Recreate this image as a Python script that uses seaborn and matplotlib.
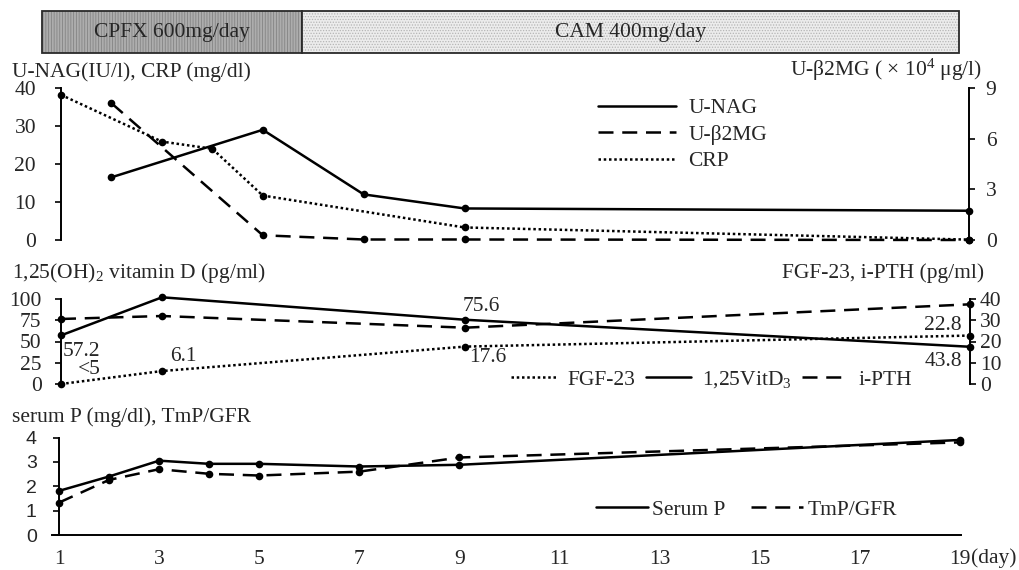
import numpy as np
import pandas as pd
import seaborn as sns
import matplotlib.pyplot as plt
from matplotlib.lines import Line2D

sns.set_style('white')
plt.rcParams['font.family'] = ['Liberation Serif', 'DejaVu Serif']
plt.rcParams['mathtext.fontset'] = 'custom'
plt.rcParams['mathtext.rm'] = 'Liberation Serif'
plt.rcParams['mathtext.it'] = 'Liberation Serif:italic'
plt.rcParams['font.size'] = 15.5
plt.rcParams['hatch.linewidth'] = 0.6

# treatment periods (day units)
phases = ['CPFX 600mg/day', 'CAM 400mg/day']
phase_start = [0.62, 5.78]
phase_end = [5.78, 18.8]

# top panel
nag_days = [2, 5, 7, 9, 19]
nag = [16.5, 29.0, 12.0, 8.3, 7.7]
b2mg_days = [2, 5, 7, 9, 19]
b2mg = [8.1, 0.28, 0.03, 0.03, 0.0]
crp_days = [1, 3, 4, 5, 9, 19]
crp = [38.2, 25.9, 24.0, 11.7, 3.3, 0.1]

# middle panel
mid_days = [1, 3, 9, 19]
vitd = [57.2, 102, 75.6, 43.8]
vitd_labels = ['57.2', '102', '75.6', '43.8']
pth = [30.6, 32.0, 26.5, 37.5]
fgf = [0.0, 6.1, 17.6, 22.8]
fgf_labels = ['<5', '6.1', '17.6', '22.8']

# bottom panel
p_days = [1, 2, 3, 4, 5, 7, 9, 19]
serum_p = [1.81, 2.4, 3.05, 2.92, 2.92, 2.81, 2.88, 3.9]
tmp_gfr = [1.33, 2.26, 2.7, 2.51, 2.44, 2.6, 3.18, 3.8]

W, H = 1019, 570
SOLID = '-'
DASH = (0, (6, 3.5))
DOT = (0, (1, 1.1))
LW = 1.8
FS = 15.5


def draw(ax, days, vals, ls):
    sns.lineplot(x=days, y=vals, ax=ax, color='black', linestyle=ls, lw=LW,
                 marker='o', markersize=5.5, markeredgewidth=0, clip_on=False, zorder=3)


def style_spines(ax, keep):
    for s in ['left', 'right', 'top', 'bottom']:
        ax.spines[s].set_visible(s in keep)
        ax.spines[s].set_linewidth(1.4)
        ax.spines[s].set_color('black')
    ax.set_xlabel('')
    ax.set_ylabel('')


fig = plt.figure(figsize=(W / 100, H / 100), dpi=100)

# ---------------- treatment bar ----------------
axb = fig.add_axes([61 / W, 1 - 53 / H, 908 / W, 42 / H])
axb.set_xlim(1, 19)
axb.set_ylim(0, 1)
faces = ['#adadad', '#ececec']
hatches = ['||||||', '......']
hcols = ['#848484', '#b5b5b5']
for i in range(len(phases)):
    w = phase_end[i] - phase_start[i]
    axb.barh(0.5, w, left=phase_start[i], height=1, color=faces[i], hatch=hatches[i],
             edgecolor=hcols[i], lw=0, clip_on=False)
    axb.barh(0.5, w, left=phase_start[i], height=1, fill=False, edgecolor='#2a2a2a',
             lw=1.3, clip_on=False)
    axb.text((phase_start[i] + phase_end[i]) / 2, 0.5, phases[i], ha='center',
             va='center', fontsize=15.5)
axb.axis('off')

# ---------------- top panel ----------------
ax1 = fig.add_axes([61 / W, 1 - 240 / H, 908 / W, 152 / H])
ax1r = ax1.twinx()
draw(ax1, nag_days, nag, SOLID)
draw(ax1r, b2mg_days, b2mg, DASH)
draw(ax1, crp_days, crp, DOT)
ax1.set_xlim(1, 19)
ax1.set_ylim(0, 40)
ax1r.set_ylim(0, 9)
ax1.set_yticks([0, 10, 20, 30, 40])
ax1r.set_yticks([0, 3, 6, 9])
ax1.set_xticks([])
style_spines(ax1, ['left'])
style_spines(ax1r, ['right'])
ax1.tick_params(axis='y', left=True, direction='out', length=4, width=1.4, pad=14, labelsize=FS)
ax1r.tick_params(axis='y', right=True, direction='out', length=4, width=1.4, pad=8, labelsize=FS)
fig.text(12 / W, 1 - 72 / H, 'U-NAG(IU/l), CRP (mg/dl)', ha='left', va='center', fontsize=FS)
fig.text(982 / W, 1 - 70 / H, 'U-β2MG ( × 10$^4$ μg/l)', ha='right', va='center', fontsize=FS)
h_top = [Line2D([], [], color='black', lw=LW, ls=SOLID),
         Line2D([], [], color='black', lw=LW, ls=DASH),
         Line2D([], [], color='black', lw=LW, ls=DOT)]
fig.legend(h_top, ['U-NAG', 'U-β2MG', 'CRP'], loc='upper left',
           bbox_to_anchor=(598 / W, 1 - 98 / H), frameon=False, fontsize=FS,
           handlelength=3.6, handletextpad=0.6, labelspacing=0.3, borderpad=0,
           borderaxespad=0)

# ---------------- middle panel ----------------
ax2 = fig.add_axes([61 / W, 1 - 384 / H, 909 / W, 85 / H])
ax2r = ax2.twinx()
draw(ax2r, mid_days, fgf, DOT)
draw(ax2, mid_days, vitd, SOLID)
draw(ax2r, mid_days, pth, DASH)
ax2.set_xlim(1, 19)
ax2.set_ylim(0, 100)
ax2r.set_ylim(0, 40)
ax2.set_yticks([0, 25, 50, 75, 100])
ax2r.set_yticks([0, 10, 20, 30, 40])
ax2.set_xticks([])
style_spines(ax2, ['left'])
style_spines(ax2r, ['right'])
ax2.tick_params(axis='y', left=True, direction='out', length=4, width=1.4, pad=10, labelsize=FS)
ax2r.tick_params(axis='y', right=True, direction='out', length=4, width=1.4, pad=3, labelsize=FS)

vitd_off = [(2, -16, 'left'), (6, 7, 'left'), (-2, 13, 'left'), (-8, -15, 'right')]
fgf_off = [(17, 14, 'left'), (8, 15, 'left'), (4, -11, 'left'), (-8, 10, 'right')]
for d, v, t, (dx, dy, ha) in zip(mid_days, vitd, vitd_labels, vitd_off):
    ax2.annotate(t, xy=(d, v), xytext=(dx, dy), textcoords='offset pixels',
                 ha=ha, va='center', fontsize=FS)
for d, v, t, (dx, dy, ha) in zip(mid_days, fgf, fgf_labels, fgf_off):
    ax2r.annotate(t, xy=(d, v), xytext=(dx, dy), textcoords='offset pixels',
                  ha=ha, va='center', fontsize=FS)

fig.text(12 / W, 1 - 273 / H, '1,25(OH)$_2$ vitamin D (pg/ml)', ha='left', va='center', fontsize=FS)
fig.text(984 / W, 1 - 273 / H, 'FGF-23, i-PTH (pg/ml)', ha='right', va='center', fontsize=FS)
h_mid = [Line2D([], [], color='black', lw=LW, ls=DOT),
         Line2D([], [], color='black', lw=LW, ls=SOLID),
         Line2D([], [], color='black', lw=LW, ls=DASH)]
fig.legend(h_mid, ['FGF-23', '1,25VitD$_3$', 'i-PTH'], loc='center left', ncol=3,
           bbox_to_anchor=(511 / W, 1 - 380 / H), frameon=False, fontsize=FS,
           handlelength=2.1, handletextpad=0.5, columnspacing=0.5, borderpad=0,
           borderaxespad=0)

# ---------------- bottom panel ----------------
ax3 = fig.add_axes([52 / W, 1 - 535 / H, 909 / W, 97.5 / H])
draw(ax3, p_days, serum_p, SOLID)
draw(ax3, p_days, tmp_gfr, DASH)
ax3.set_xlim(0.86, 19.02)
ax3.set_ylim(0, 4)
ax3.set_yticks([0, 1, 2, 3, 4])
ax3.set_xticks(list(range(1, 20, 2)))
ax3.spines['left'].set_position(('data', 1))
style_spines(ax3, ['left', 'bottom'])
ax3.tick_params(axis='y', left=True, direction='out', length=4, width=1.4, pad=12, labelsize=14)
ax3.tick_params(axis='x', bottom=False, length=0, pad=11, labelsize=FS)
for lbl in ax3.get_yticklabels():
    lbl.set_fontfamily('Liberation Sans')
ax3.annotate('(day)', xy=(19, 0), xycoords=('data', 'axes fraction'), xytext=(11, -23),
             textcoords='offset pixels', ha='left', va='center', fontsize=FS)
fig.text(12 / W, 1 - 417 / H, 'serum P (mg/dl), TmP/GFR', ha='left', va='center', fontsize=FS)
h_bot = [Line2D([], [], color='black', lw=LW, ls=SOLID),
         Line2D([], [], color='black', lw=LW, ls=DASH)]
fig.legend(h_bot, ['Serum P', 'TmP/GFR'], loc='center left', ncol=2,
           bbox_to_anchor=(596 / W, 1 - 510 / H), frameon=False, fontsize=FS,
           handlelength=2.4, handletextpad=0.2, columnspacing=1.2, borderpad=0,
           borderaxespad=0)

fig.savefig('out.png', dpi=100)
